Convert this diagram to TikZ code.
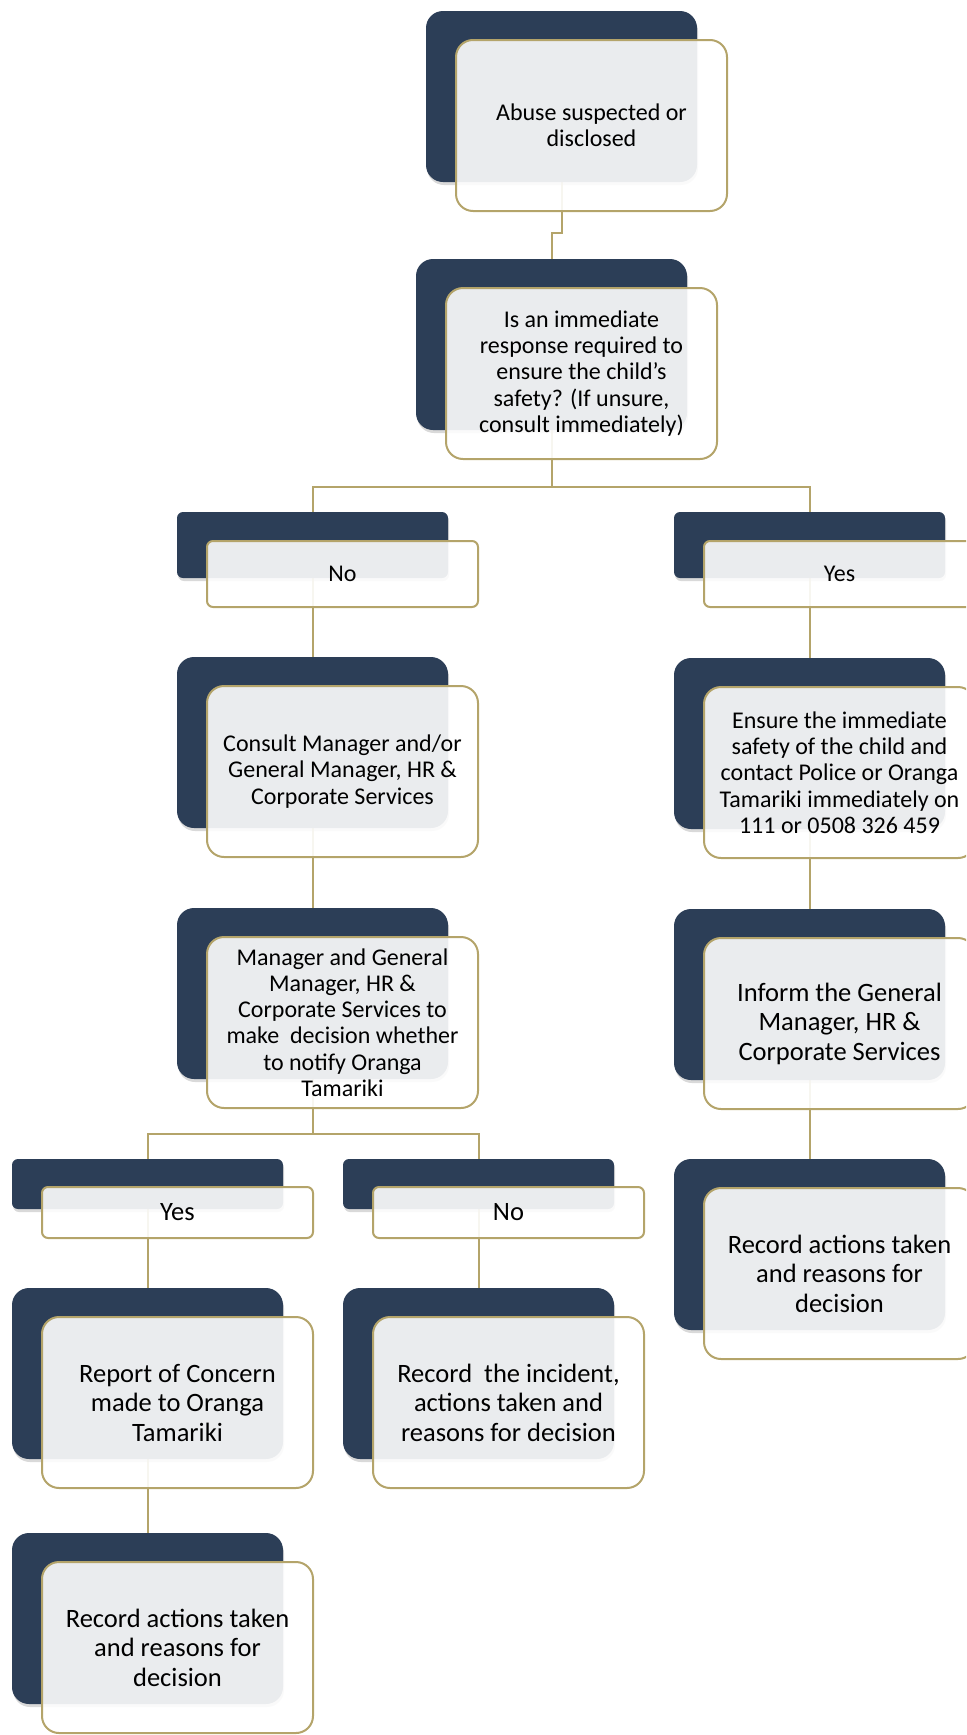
\documentclass[tikz,border=0pt]{standalone}
\usepackage{fontspec}
\setmainfont{Carlito}
\usetikzlibrary{shadows}
\definecolor{navy}{RGB}{44,62,87}
\definecolor{gold}{RGB}{180,164,106}
\pgfdeclarelayer{bg}
\pgfsetlayers{bg,main}
\begin{document}
\begin{tikzpicture}[x=0.5pt,y=-0.5pt,
  darkbase/.style={draw=none, fill=navy, inner sep=0pt, minimum width=135.5pt,
    drop shadow={shadow xshift=0.5pt, shadow yshift=-1.5pt, opacity=0.3}},
  darkbig/.style={darkbase, rounded corners=8.5pt, minimum height=85.5pt},
  darksmall/.style={darkbase, rounded corners=3pt, minimum height=33pt},
  darktiny/.style={darkbase, rounded corners=3pt, minimum height=25pt},
  frontbase/.style={draw=gold, line width=1pt, fill=white, fill opacity=0.9, text opacity=1,
    inner sep=0pt, minimum width=135.5pt, align=center, text=black},
  fsmall/.style={font=\fontsize{12}{13.15}\selectfont},
  flarge/.style={font=\fontsize{13.25}{14.75}\selectfont},
  frontbig/.style={frontbase, rounded corners=8.5pt, minimum height=85.5pt},
  frontsmall/.style={frontbase, rounded corners=3pt, minimum height=33pt},
  fronttiny/.style={frontbase, rounded corners=3pt, minimum height=25.5pt},
  conn/.style={draw=gold, line width=1pt}
]
\useasboundingbox (0,0) rectangle (966,1735);
\clip (0,0) rectangle (966,1735);

% dark back boxes
\node[darkbig] (dA) at (561.5,96.5) {};
\node[darkbig] (dB) at (551.5,344.5) {};
\node[darksmall] (dNo) at (312.5,545) {};
\node[darksmall] (dYes) at (809.5,545) {};
\node[darkbig] (dCon) at (312.5,742.5) {};
\node[darkbig] (dMan) at (312.5,993.5) {};
\node[darkbig] (dEns) at (809.5,743.5) {};
\node[darkbig] (dInf) at (809.5,994.5) {};
\node[darkbig] (dRecR) at (809.5,1244.5) {};
\node[darktiny] (dY2) at (147.5,1184) {};
\node[darktiny] (dN2) at (478.5,1184) {};
\node[darkbig] (dRep) at (147.5,1373.5) {};
\node[darkbig] (dRecI) at (478.5,1373.5) {};
\node[darkbig] (dRecL) at (147.5,1618.5) {};

% front boxes
\node[frontbig,fsmall] (fA) at (591.5,125.5) {Abuse suspected or\\disclosed};
\node[frontbig,fsmall] (fB) at (581.5,373.5) {Is an immediate\\response required to\\ensure the child’s\\safety? (If unsure,\\consult immediately)};
\node[frontsmall,fsmall] (fNo) at (342.5,574) {No};
\node[frontsmall,fsmall] (fYes) at (839.5,574) {Yes};
\node[frontbig,fsmall] (fCon) at (342.5,771.5) {Consult Manager and/or\\General Manager, HR \&\\Corporate Services};
\node[frontbig,fsmall] (fMan) at (342.5,1022.5) {Manager and General\\Manager, HR \&\\Corporate Services to\\make\ \ decision whether\\to notify Oranga\\Tamariki};
\node[frontbig,fsmall] (fEns) at (839.5,772.5) {Ensure the immediate\\safety of the child and\\contact Police or Oranga\\Tamariki immediately on\\111 or 0508 326 459};
\node[frontbig,flarge] (fInf) at (839.5,1023.5) {Inform the General\\Manager, HR \&\\Corporate Services};
\node[frontbig,flarge] (fRecR) at (839.5,1273.5) {Record actions taken\\and reasons for\\decision};
\node[fronttiny,flarge] (fY2) at (177.5,1212.5) {Yes};
\node[fronttiny,flarge] (fN2) at (508.5,1212.5) {No};
\node[frontbig,flarge] (fRep) at (177.5,1402.5) {Report of Concern\\made to Oranga\\Tamariki};
\node[frontbig,flarge] (fRecI) at (508.5,1402.5) {Record\ \ the incident,\\actions taken and\\reasons for decision};
\node[frontbig,flarge] (fRecL) at (177.5,1647.5) {Record actions taken\\and reasons for\\decision};

\coordinate (j1) at (561.5,233);
\coordinate (bB) at (551.5,487);
\coordinate (bM) at (312.5,1134);

\begin{pgfonlayer}{bg}
\draw[conn] (dA.south) -- (j1) -| (dB.north);
\draw[conn] (dB.south) -- (bB) -| (dNo.north);
\draw[conn] (bB) -| (dYes.north);
\draw[conn] (dNo.south) -- (dCon.north);
\draw[conn] (dCon.south) -- (dMan.north);
\draw[conn] (dMan.south) -- (bM) -| (dY2.north);
\draw[conn] (bM) -| (dN2.north);
\draw[conn] (dY2.south) -- (dRep.north);
\draw[conn] (dRep.south) -- (dRecL.north);
\draw[conn] (dN2.south) -- (dRecI.north);
\draw[conn] (dYes.south) -- (dEns.north);
\draw[conn] (dEns.south) -- (dInf.north);
\draw[conn] (dInf.south) -- (dRecR.north);
\end{pgfonlayer}
\end{tikzpicture}
\end{document}
